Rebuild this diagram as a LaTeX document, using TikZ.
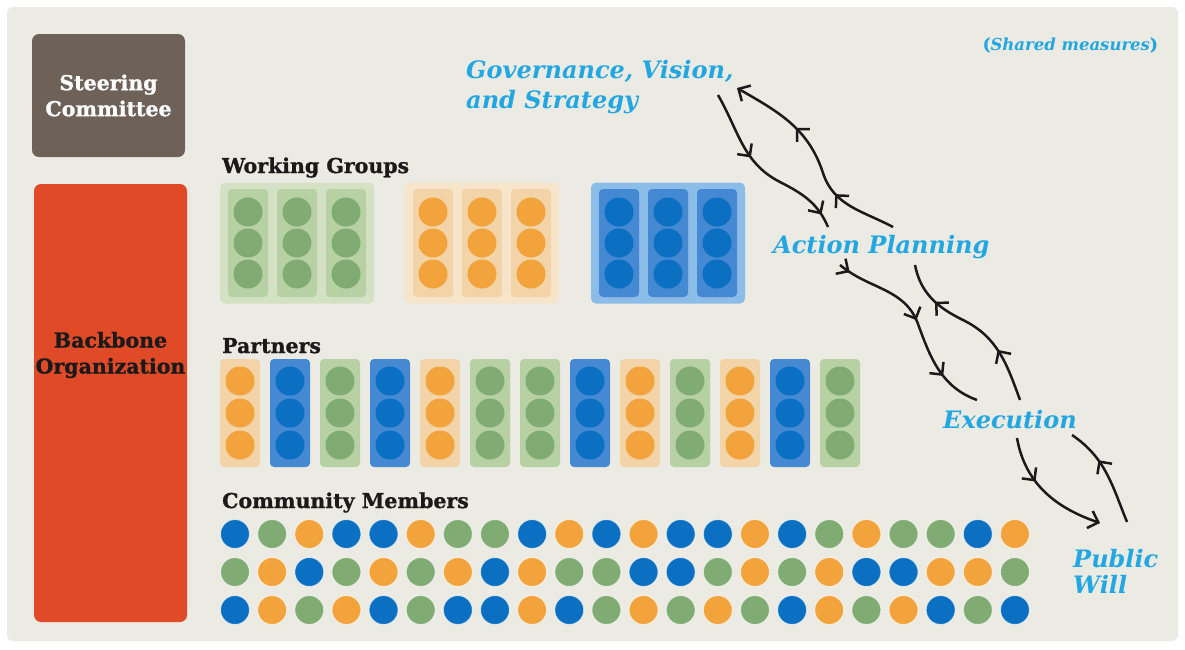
\documentclass[tikz,border=0pt]{standalone}
\usepackage{fontspec}
\setmainfont{DejaVu Serif}[BoldFeatures={FakeBold=1}]
\usetikzlibrary{arrows.meta,decorations.markings}

\definecolor{panel}{HTML}{ECEBE3}
\definecolor{steer}{HTML}{6D6158}
\definecolor{backbone}{HTML}{E04A26}
\definecolor{ink}{HTML}{1A1A1A}
\definecolor{sky}{HTML}{22A7E2}
\definecolor{dot-g}{HTML}{80AC74}
\definecolor{dot-o}{HTML}{F2A33C}
\definecolor{dot-b}{HTML}{0B6FC2}
\definecolor{bar-g}{HTML}{B7D1A4}
\definecolor{bar-o}{HTML}{F2D4A8}
\definecolor{bar-b}{HTML}{4489D2}
\definecolor{grp-g}{HTML}{D4E1C4}
\definecolor{grp-o}{HTML}{F6E5CB}
\definecolor{grp-b}{HTML}{8CBCE8}

\newcommand\headfont{\fontsize{20.5}{26}\selectfont\bfseries}
\newcommand\stagefont{\fontsize{24}{30}\selectfont\bfseries\itshape}

\tikzset{
  box/.style={rectangle, rounded corners=7pt, inner sep=0pt, align=center, font=\headfont},
  head/.style={anchor=base west, inner sep=0pt, text=ink, font=\headfont},
  stage/.style={anchor=base west, inner sep=0pt, align=left, text=sky, font=\stagefont},
  grp/.style={rectangle, rounded corners=5pt, minimum width=154pt, minimum height=121pt, inner sep=0pt},
  bar/.style={rectangle, rounded corners=4pt, minimum width=40pt, minimum height=108pt, inner sep=0pt},
  dot/.style={circle, minimum size=29pt, inner sep=0pt},
  flow/.style={line width=2.5pt, draw=ink},
  midtip/.style={postaction={decorate, decoration={markings,
      mark=at position #1 with {\arrow{Straight Barb[length=9pt,width=18pt]}}}}},
}

\begin{document}
\begin{tikzpicture}[x=1pt,y=1pt]
	
	\useasboundingbox (0,0) rectangle (1185,-649);
	\fill[white] (0,0) rectangle (1185,-649);
	\fill[panel, rounded corners=6pt] (7,-7) rectangle (1178,-641);
	
	\node[box, fill=steer, text=white, minimum width=153pt, minimum height=123pt] (sc) at (108.5,-95.5) {Steering\\Committee};
	\node[box, fill=backbone, minimum width=153pt, minimum height=438pt] (bo) at (110.5,-403) {};
	\node[box, text=ink] (bo-txt) at ([yshift=48pt]bo.center) {Backbone\\Organization};
	
	\node[head] (wg) at (222,-173) {Working Groups};
	\node[head] (pt) at (222,-353) {Partners};
	\node[head] (cm) at (222,-508) {Community Members};
	
	% working groups
	\foreach \k/\x in {g/297, o/482, b/668} {
		\node[grp, fill=grp-\k] (wg-\k) at (\x,-243) {};
		\foreach \i in {-1,0,1} {
			\node[bar, fill=bar-\k] at ({\x+49*\i},-243) {};
			\foreach \r in {-1,0,1}
				\node[dot, fill=dot-\k] at ({\x+49*\i},{-243+31*\r}) {};
		}
	}
	
	% partners
	\foreach \k [count=\i from 0] in {o,b,g,b,o,g,g,b,o,g,o,b,g} {
		\node[bar, fill=bar-\k] (pt-\i) at ({240+50*\i},-413) {};
		\foreach \r in {0,1,2}
			\node[dot, fill=dot-\k] at ({240+50*\i},{-381-32*\r}) {};
	}
	
	% community members
	\foreach \row [count=\r from 0] in {{b,g,o,b,b,o,g,g,b,o,b,o,b,b,o,b,g,o,g,g,b,o},
		{g,o,b,g,o,g,o,b,o,g,g,b,b,g,o,g,o,b,b,o,o,g},
		{b,o,g,o,b,g,b,b,o,b,g,o,g,o,g,b,o,g,o,b,g,b}}
		\foreach \k [count=\c from 0] in \row
			\node[dot, fill=dot-\k, draw=white, draw opacity=0.6, line width=1pt] (cm-\r-\c) at ({235+37.14*\c},{-534-38*\r}) {};
	
	\node[stage] (gov) at (466,-108) {Governance, Vision,\\and Strategy};
	\node[stage] (act) at (773,-253) {Action Planning};
	\node[stage] (exe) at (943,-428) {Execution};
	\node[stage, font=\fontsize{24}{26}\selectfont\bfseries\itshape] (pw) at (1073,-593) {Public\\Will};
	\node[anchor=base east, inner sep=0pt, text=sky, font=\fontsize{16.5}{18}\selectfont\bfseries] (sm) at (1158,-50) {(\textit{Shared measures})};
	
	\coordinate (ga) at (718,-95);
	\coordinate (gm) at (780,-182);
	\coordinate (gb) at (828,-227);
	\coordinate (ag) at (893,-227);
	\coordinate (am) at (823,-173);
	\coordinate (ae) at (737,-88);
	\coordinate (ax) at (840,-265);
	\coordinate (an) at (918,-324);
	\coordinate (xb) at (977,-400);
	\coordinate (xa) at (1020,-400);
	\coordinate (xm) at (963,-320);
	\coordinate (xe) at (915,-265);
	\coordinate (xp) at (1017,-438);
	\coordinate (pe) at (1100,-523);
	\coordinate (px) at (1127,-522);
	\coordinate (pm) at (1072,-435);
	
	\draw[flow, midtip=0.4, midtip=0.92] (ga) to[out=-60,in=153] (gm) to[out=-27,in=113] (gb);
	\draw[flow, midtip=0.31, midtip=0.67, -{Straight Barb[length=9pt,width=18pt]}] (ag) to[out=152,in=-72] (am) to[out=108,in=-30] (ae);
	\draw[flow, midtip=0.06, midtip=0.48, midtip=0.79] (ax) to[out=-40,in=110] (an) to[out=-70,in=160] (xb);
	\draw[flow, midtip=0.31, midtip=0.76] (xa) to[out=110,in=-26] (xm) to[out=154,in=-79] (xe);
	\draw[flow, midtip=0.38, -{Straight Barb[length=9pt,width=18pt]}] (xp) to[out=-80,in=161] (pe);
	\draw[flow, midtip=0.65] (px) to[out=112,in=-34] (pm);
	
\end{tikzpicture}
\end{document}
